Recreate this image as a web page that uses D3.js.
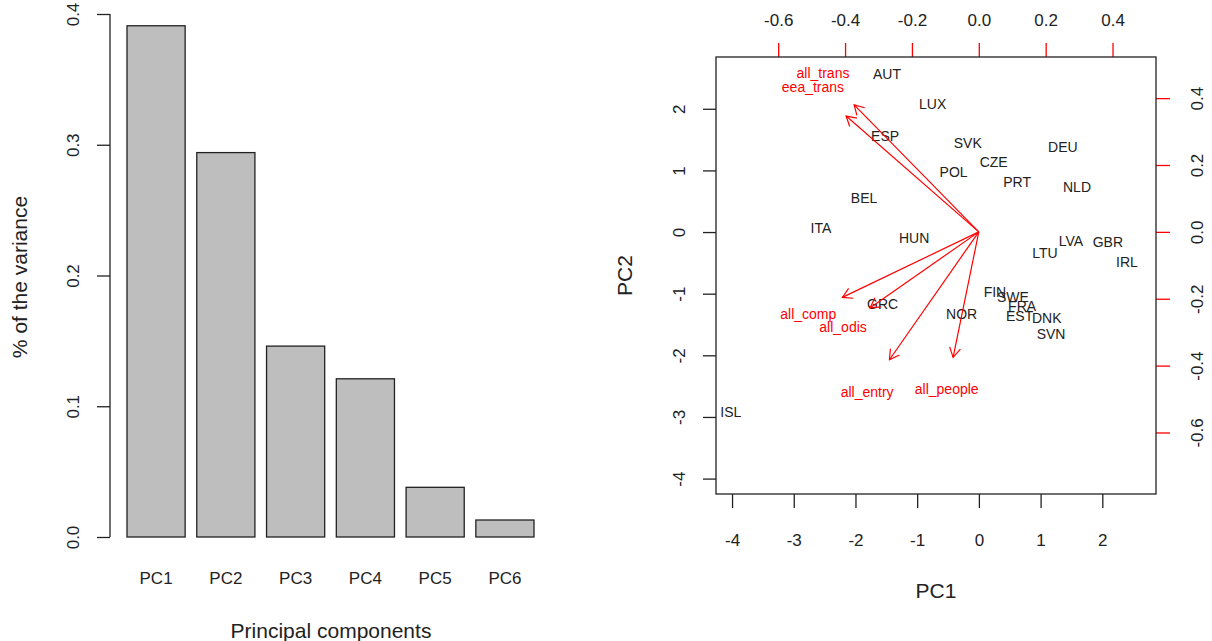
<html>
<script src="https://d3js.org/d3.v7.min.js"></script>
<style>
  body { margin: 0; background: #fff; }
  text { font-family: "Liberation Sans", Arial, sans-serif; }
  .tick line { stroke: #222; stroke-width: 1.3; }
</style>
<body>
<svg width="1212" height="641"></svg>
<script>
// scree plot data
const components = ["PC1", "PC2", "PC3", "PC4", "PC5", "PC6"];
const variance = [0.391, 0.294, 0.146, 0.121, 0.038, 0.013];
const varTicks = [0, 0.1, 0.2, 0.3, 0.4];

// biplot scores
const countries = ["AUT", "LUX", "ESP", "SVK", "DEU", "CZE", "POL", "PRT", "NLD", "BEL", "ITA", "HUN", "LVA",
  "GBR", "LTU", "IRL", "FIN", "SWE", "FRA", "EST", "DNK", "SVN", "NOR", "GRC", "ISL"];
const pc1 = [-1.49, -0.75, -1.52, -0.18, 1.36, 0.24, -0.41, 0.62, 1.59, -1.86, -2.56, -1.05, 1.49,
  2.09, 1.07, 2.40, 0.26, 0.55, 0.70, 0.66, 1.10, 1.17, -0.28, -1.56, -4.02];
const pc2 = [2.56, 2.07, 1.56, 1.44, 1.38, 1.13, 0.97, 0.81, 0.73, 0.55, 0.06, -0.10, -0.15,
  -0.16, -0.34, -0.49, -0.97, -1.05, -1.20, -1.36, -1.39, -1.65, -1.33, -1.17, -2.92];

// biplot loadings
const variables = ["all_trans", "eea_trans", "all_comp", "all_odis", "all_entry", "all_people"];
const load1 = [-0.466, -0.496, -0.510, -0.406, -0.334, -0.096];
const load2 = [0.475, 0.433, -0.245, -0.284, -0.478, -0.469];

const pcTicks = [-4, -3, -2, -1, 0, 1, 2];
const loadTicks = [-0.6, -0.4, -0.2, 0.0, 0.2, 0.4];

const svg = d3.select("svg");
const ink = "#222";
const fmt1 = d => d.toFixed(1);

// ---------- left: barplot ----------
var xb = d3.scaleBand().domain(components).range([127, 534]).paddingInner(1 / 6).paddingOuter(0);
var yb = d3.scaleLinear().domain([0, 0.4]).range([537, 14]);

svg.append("g").selectAll("rect")
  .data(components)
  .enter()
  .append("rect")
    .attr("x", d => xb(d))
    .attr("width", xb.bandwidth())
    .attr("y", (d, i) => yb(variance[i]))
    .attr("height", (d, i) => yb(0) - yb(variance[i]))
    .attr("fill", "#bebebe")
    .attr("stroke", ink)
    .attr("stroke-width", 1.3);

var yAxisB = svg.append("g")
  .attr("transform", "translate(110,0)")
  .call(d3.axisLeft(yb).tickValues(varTicks).tickSize(13).tickFormat(fmt1));
yAxisB.select(".domain").remove();
yAxisB.append("line")
  .attr("y1", yb(0)).attr("y2", yb(0.4))
  .attr("stroke", ink).attr("stroke-width", 1.3);
yAxisB.selectAll(".tick text")
  .attr("transform", "rotate(-90)")
  .attr("x", 0).attr("y", -37).attr("dy", "0.35em")
  .attr("text-anchor", "middle")
  .style("font-size", "17px").attr("fill", ink);

// bar names
svg.append("g").selectAll("text")
  .data(components)
  .enter()
  .append("text")
    .attr("x", d => xb(d) + xb.bandwidth() / 2)
    .attr("y", 584)
    .attr("text-anchor", "middle")
    .style("font-size", "17px")
    .attr("fill", ink)
    .text(d => d);

svg.append("text")
  .attr("x", 331).attr("y", 638)
  .attr("text-anchor", "middle")
  .style("font-size", "21px").attr("fill", ink)
  .text("Principal components");

svg.append("text")
  .attr("transform", "translate(20,277) rotate(-90)")
  .attr("dy", "0.35em")
  .attr("text-anchor", "middle")
  .style("font-size", "21px").attr("fill", ink)
  .text("% of the variance");

// ---------- right: biplot ----------
var L = 716, R = 1156, T = 57, B = 494;
var x = d3.scaleLinear().domain([-4.26, 2.87]).range([L, R]);
var y = d3.scaleLinear().domain([-4.25, 2.84]).range([B, T]);
var xl = d3.scaleLinear().domain([-0.786, 0.530]).range([L, R]);
var yl = d3.scaleLinear().domain([-0.784, 0.523]).range([B, T]);

// country labels
svg.append("g").selectAll("text")
  .data(countries)
  .enter()
  .append("text")
    .attr("x", (d, i) => x(pc1[i]))
    .attr("y", (d, i) => y(pc2[i]))
    .attr("dy", "0.35em")
    .attr("text-anchor", "middle")
    .style("font-size", "14px")
    .attr("fill", ink)
    .text(d => d);

// arrows (drawn to 0.8 of loading, label at loading)
var arrows = svg.append("g").attr("stroke", "red").attr("stroke-width", 1.2).attr("fill", "none");
variables.forEach(function(v, i) {
  var x0 = xl(0), y0 = yl(0);
  var x1 = xl(load1[i] * 0.8), y1 = yl(load2[i] * 0.8);
  var a = Math.atan2(y1 - y0, x1 - x0);
  var h = 11, s = Math.PI / 6;
  arrows.append("line").attr("x1", x0).attr("y1", y0).attr("x2", x1).attr("y2", y1);
  arrows.append("path")
    .attr("d", "M" + (x1 - h * Math.cos(a - s)) + "," + (y1 - h * Math.sin(a - s)) +
      "L" + x1 + "," + y1 +
      "L" + (x1 - h * Math.cos(a + s)) + "," + (y1 - h * Math.sin(a + s)));
});

svg.append("g").selectAll("text")
  .data(variables)
  .enter()
  .append("text")
    .attr("x", (d, i) => xl(load1[i]))
    .attr("y", (d, i) => yl(load2[i]))
    .attr("dy", "0.35em")
    .attr("text-anchor", "middle")
    .style("font-size", "14px")
    .attr("fill", "red")
    .text(d => d);

// bottom axis PC1
var xAxis = svg.append("g")
  .attr("transform", "translate(0," + B + ")")
  .call(d3.axisBottom(x).tickValues(pcTicks).tickSize(14).tickFormat(d => String(d)));
xAxis.select(".domain").remove();
xAxis.selectAll(".tick text").attr("y", 52).attr("dy", 0)
  .style("font-size", "17px").attr("fill", ink);

// left axis PC2
var yAxis = svg.append("g")
  .attr("transform", "translate(" + L + ",0)")
  .call(d3.axisLeft(y).tickValues(pcTicks).tickSize(13).tickFormat(d => String(d)));
yAxis.select(".domain").remove();
yAxis.selectAll(".tick text")
  .attr("transform", "rotate(-90)")
  .attr("x", 0).attr("y", -37).attr("dy", "0.35em")
  .attr("text-anchor", "middle")
  .style("font-size", "17px").attr("fill", ink);

// top axis (loadings)
var topAxis = svg.append("g")
  .attr("transform", "translate(0," + T + ")")
  .call(d3.axisTop(xl).tickValues(loadTicks).tickSize(14).tickFormat(fmt1));
topAxis.select(".domain").remove();
topAxis.selectAll(".tick line").style("stroke", "red");
topAxis.selectAll(".tick text").attr("y", -31).attr("dy", 0)
  .style("font-size", "17px").attr("fill", ink);

// right axis (loadings)
var rightAxis = svg.append("g")
  .attr("transform", "translate(" + R + ",0)")
  .call(d3.axisRight(yl).tickValues(loadTicks).tickSize(14).tickFormat(fmt1));
rightAxis.select(".domain").remove();
rightAxis.selectAll(".tick line").style("stroke", "red");
rightAxis.selectAll(".tick text")
  .attr("transform", "rotate(-90)")
  .attr("x", 0).attr("y", 41).attr("dy", "0.35em")
  .attr("text-anchor", "middle")
  .style("font-size", "17px").attr("fill", ink);

// box
svg.append("rect")
  .attr("x", L).attr("y", T).attr("width", R - L).attr("height", B - T)
  .attr("fill", "none").attr("stroke", ink).attr("stroke-width", 1.3);

svg.append("text")
  .attr("x", (L + R) / 2).attr("y", 598)
  .attr("text-anchor", "middle")
  .style("font-size", "21px").attr("fill", ink)
  .text("PC1");

svg.append("text")
  .attr("transform", "translate(625," + (T + B) / 2 + ") rotate(-90)")
  .attr("dy", "0.35em")
  .attr("text-anchor", "middle")
  .style("font-size", "21px").attr("fill", ink)
  .text("PC2");
</script>
</body>
</html>
